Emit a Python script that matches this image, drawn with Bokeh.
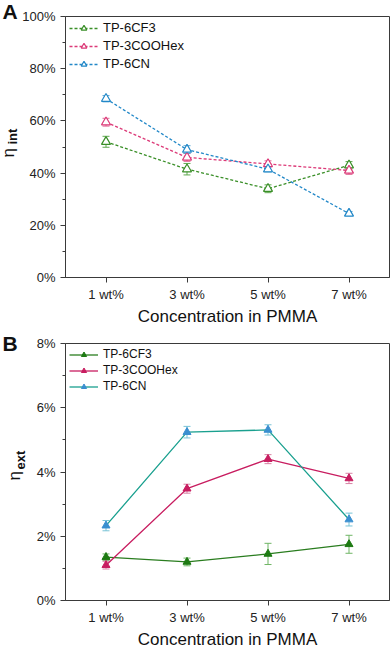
from bokeh.plotting import figure
from bokeh.models import (ColumnDataSource, FactorRange, Range1d, FixedTicker,
                          PrintfTickFormatter, Legend, LegendItem, Whisker, TeeHead, Title)
from bokeh.layouts import column
from bokeh.embed import file_html
from bokeh.resources import INLINE

categories = ["1 wt%", "3 wt%", "5 wt%", "7 wt%"]
series_names = ["TP-6CF3", "TP-3COOHex", "TP-6CN"]

# Panel A: internal efficiency (%)
int_cf3 = [52.0, 41.5, 34.0, 43.0]
int_cf3_err = [2.1, 2.2, 1.5, 1.4]
int_cooh = [59.5, 46.0, 43.5, 41.0]
int_cooh_err = [1.5, 1.5, 1.2, 1.5]
int_cn = [68.5, 49.0, 41.5, 24.5]
int_cn_err = [1.2, 1.5, 1.0, 0.8]

# Panel B: external efficiency (%)
ext_cf3 = [1.35, 1.20, 1.45, 1.75]
ext_cf3_err = [0.10, 0.12, 0.33, 0.28]
ext_cooh = [1.10, 3.48, 4.40, 3.80]
ext_cooh_err = [0.12, 0.14, 0.14, 0.16]
ext_cn = [2.33, 5.24, 5.31, 2.52]
ext_cn_err = [0.16, 0.18, 0.16, 0.20]

FONT = "Liberation Sans"
AXC = "#3a3a3a"


def base_fig(height, top, ymax, yticks, yminor, fmt):
    p = figure(x_range=FactorRange(factors=categories), y_range=Range1d(0, ymax),
               width=392, height=height, output_backend="svg", toolbar_location=None,
               min_border_left=65, min_border_right=3, min_border_top=top,
               min_border_bottom=10)
    p.grid.visible = False
    p.outline_line_color = AXC
    p.outline_line_width = 1
    p.background_fill_color = "white"
    p.yaxis.ticker = FixedTicker(ticks=yticks, minor_ticks=yminor)
    p.yaxis.formatter = PrintfTickFormatter(format=fmt)
    for ax in (p.xaxis[0], p.yaxis[0]):
        ax.axis_line_color = AXC
        ax.major_tick_line_color = AXC
        ax.minor_tick_line_color = AXC
        ax.major_tick_in = 0
        ax.major_tick_out = 5
        ax.minor_tick_in = 0
        ax.minor_tick_out = 3
        ax.major_label_text_font = FONT
        ax.major_label_text_font_size = "13px"
        ax.major_label_text_color = "#222222"
    p.xaxis.major_label_standoff = 4
    p.yaxis.major_label_standoff = 5
    p.xaxis.axis_label = "Concentration in PMMA"
    p.xaxis.axis_label_text_font = FONT
    p.xaxis.axis_label_text_font_size = "17px"
    p.xaxis.axis_label_text_font_style = "normal"
    p.xaxis.axis_label_text_color = "#111111"
    p.xaxis.axis_label_standoff = 2
    return p


def add_series(p, vals, errs, color, ecolor, dashed, filled, mcolor):
    lo = [v - e for v, e in zip(vals, errs)]
    hi = [v + e for v, e in zip(vals, errs)]
    src = ColumnDataSource(dict(x=categories, y=vals, lo=lo, hi=hi))
    w = Whisker(base="x", lower="lo", upper="hi", source=src, dimension="height",
                line_color=ecolor, line_width=1,
                upper_head=TeeHead(size=7, line_color=ecolor, line_width=1),
                lower_head=TeeHead(size=7, line_color=ecolor, line_width=1))
    p.add_layout(w)
    lr = p.line("x", "y", source=src, line_color=color, line_width=1.3,
                line_dash="3 2" if dashed else "solid")
    if filled:
        sr = p.scatter("x", "y", source=src, marker="triangle", size=8,
                       fill_color=mcolor, line_color=mcolor, line_width=1)
    else:
        sr = p.scatter("x", "y", source=src, marker="triangle", size=9,
                       fill_color="white", line_color=mcolor, line_width=1.2)
    return [lr, sr]


def add_legend(p, items, fs, lh, sp):
    leg = Legend(items=[LegendItem(label=n, renderers=r) for n, r in items],
                 location="top_left", glyph_width=29, glyph_height=lh, label_height=lh,
                 label_standoff=5, spacing=sp, padding=1, margin=3,
                 background_fill_alpha=0, border_line_alpha=0,
                 label_text_font=FONT, label_text_font_size=fs,
                 label_text_color="#111111")
    p.add_layout(leg)


def side_text(p, text, size, style, offset, standoff):
    p.add_layout(Title(text=text, align="left", vertical_align="bottom",
                       offset=offset, standoff=standoff,
                       text_font=FONT, text_font_size=size, text_font_style=style,
                       text_color="#111111"), "left")


def panel_letter(p, letter, standoff):
    p.title.text = letter
    p.title.align = "left"
    p.title.vertical_align = "bottom"
    p.title.offset = -63
    p.title.standoff = standoff
    p.title.text_font = FONT
    p.title.text_font_size = "21px"
    p.title.text_font_style = "bold"
    p.title.text_color = "#111111"


# ---------- Panel A ----------
pa = base_fig(328, 16, 100, [0, 20, 40, 60, 80, 100], [10, 30, 50, 70, 90], "%d%%")
ra = []
ra.append(add_series(pa, int_cf3, int_cf3_err, "#3a8f28", "#5fa84f", True, False, "#3a8f28"))
ra.append(add_series(pa, int_cooh, int_cooh_err, "#dc3a78", "#e06d97", True, False, "#dc3a78"))
ra.append(add_series(pa, int_cn, int_cn_err, "#2288c8", "#5aa6d4", True, False, "#2288c8"))
add_legend(pa, list(zip(series_names, ra)), "13px", 14, 3)
side_text(pa, "int", "13px", "bold", 133, 0)     # subscript, next to the axis
side_text(pa, "η", "17px", "normal", 120, -30)   # eta, outside
panel_letter(pa, "A", -13)

# ---------- Panel B ----------
pb = base_fig(323, 15, 8, [0, 2, 4, 6, 8], [1, 3, 5, 7], "%d%%")
rb = []
rb.append(add_series(pb, ext_cf3, ext_cf3_err, "#2a7d1f", "#6fb565", False, True, "#1d7a12"))
rb.append(add_series(pb, ext_cooh, ext_cooh_err, "#c81d60", "#d883a5", False, True, "#c81d60"))
rb.append(add_series(pb, ext_cn, ext_cn_err, "#1aa08f", "#78c3d6", False, True, "#3a8fd0"))
add_legend(pb, list(zip(series_names, rb)), "12px", 13, 2)
side_text(pb, "ext", "13px", "bold", 131, 12)
side_text(pb, "η", "17px", "normal", 120, -38)
panel_letter(pb, "B", -23)

layout = column(pa, pb, spacing=0)
open("out.html", "w").write(file_html(layout, INLINE))
